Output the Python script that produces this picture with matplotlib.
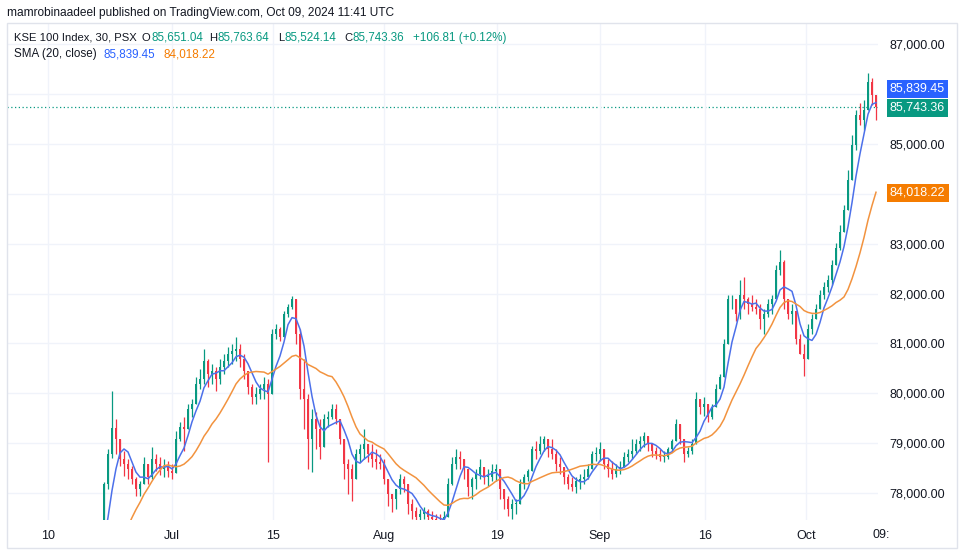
import matplotlib.pyplot as plt
from matplotlib.patches import Rectangle
from matplotlib.ticker import FuncFormatter
import pandas as pd
import numpy as np

plt.rcParams['font.family'] = ['Liberation Sans', 'DejaVu Sans']

# KSE 100, 30 min chart, resampled by eye: one candle per ~4 px of the screenshot
highs = [
    74450, 74250, 74550, 74450, 74750, 74650, 74950, 74850, 75150, 75050,
    75350, 75450, 75250, 75550, 75750, 75650, 75650, 76050, 76150, 76450,
    76650, 76750, 77050, 77250,
    78220, 78880, 80040, 79480, 79080, 78840, 78680, 78540, 78320, 78240,
    78720, 78480, 78920, 78780, 78720, 78680, 78640, 78580, 79240, 79420,
    79520, 79780, 79880, 80320, 80480, 80880, 80680, 80580, 80520, 80680,
    80780, 80920, 80980, 81120, 80980, 80780, 80440, 80180, 80120, 80180,
    80320, 80280, 81280, 81380, 81320, 81640, 81780, 81940, 81880, 81280,
    80680, 79980, 79680, 79620, 79480, 79580, 79640, 79780, 79780, 79380,
    78980, 78680, 78580, 78880, 78980, 79280, 78980, 78980, 78880, 78780,
    78680, 78280, 77980, 78080, 78380, 78340, 78080, 77880, 77720, 77680,
    77720, 77680, 77640, 77580, 77580, 77640, 78300, 78720, 78880, 78840,
    78680, 78380, 78320, 78480, 78680, 78520, 78480, 78580, 78580, 78280,
    78020, 77940, 77880, 77880, 78280, 78380, 78480, 78940, 79040, 79140,
    79140, 79080, 79080, 78880, 78720, 78480, 78380, 78320, 78320, 78380,
    78480, 78580, 78840, 78920, 79020, 78780, 78680, 78640, 78580, 78640,
    78820, 78880, 79080, 79080, 79140, 79220, 79140, 78980, 78920, 78880,
    78840, 78920, 79080, 79480, 79380, 79020, 78920, 79080, 80020, 79880,
    79920, 79720, 79780, 80180, 80380, 81080, 81980, 81980, 81880, 82280,
    82340, 81920, 81980, 81880, 81780, 81680, 81880, 81980, 82580, 82880,
    82680, 81880, 81780, 81580, 81180, 80980, 81380, 81580, 81780, 82080,
    82240, 82380, 82680, 83020, 83380, 83780, 84480, 85180, 85680, 85820,
    85880, 86420, 86320, 85980,
]
lows = [
    74150, 73950, 74250, 74150, 74450, 74350, 74650, 74550, 74850, 74750,
    75050, 75150, 74950, 75250, 75450, 75350, 75350, 75750, 75850, 76150,
    76350, 76450, 76750, 76950,
    77480, 78080, 78700, 78780, 78540, 78340, 78280, 78180, 77940, 77940,
    78240, 78180, 78280, 78440, 78360, 78320, 78320, 78280, 78480, 79040,
    78840, 79480, 79520, 79880, 80080, 80180, 80120, 80180, 80040, 80180,
    80380, 80520, 80580, 80640, 80520, 80280, 79980, 79780, 79780, 79880,
    79880, 78620, 80680, 81080, 81040, 81280, 81520, 81680, 80980, 79880,
    79280, 78480, 78420, 78880, 78680, 79080, 79320, 79480, 79380, 78980,
    78280, 77980, 77840, 78480, 78620, 78680, 78620, 78520, 78480, 78480,
    78180, 77740, 77620, 77680, 77980, 78020, 77580, 77480, 77380, 77380,
    77480, 77440, 77380, 77320, 77280, 77320, 77600, 78160, 78480, 78480,
    78280, 77940, 77880, 78080, 78280, 78180, 78140, 78240, 78240, 77880,
    77680, 77540, 77480, 77580, 77980, 78080, 78240, 78580, 78680, 78780,
    78840, 78720, 78680, 78440, 78380, 78180, 78080, 78040, 78000, 78080,
    78180, 78280, 78520, 78640, 78640, 78480, 78320, 78280, 78320, 78380,
    78580, 78620, 78680, 78780, 78840, 78920, 78840, 78720, 78680, 78640,
    78620, 78680, 78840, 79080, 78980, 78620, 78720, 78780, 79080, 79580,
    79540, 79420, 79480, 79840, 80080, 80380, 80980, 81680, 81440, 81480,
    81680, 81580, 81640, 81580, 81280, 81180, 81520, 81580, 81880, 82380,
    81680, 81480, 81380, 80980, 80780, 80340, 80780, 81180, 81480, 81680,
    81880, 82040, 82180, 82640, 82880, 83240, 83680, 84280, 84880, 85380,
    85280, 85880, 85780, 85480,
]
closes = [
    74300, 74100, 74400, 74300, 74600, 74500, 74800, 74700, 75000, 74900,
    75200, 75300, 75100, 75400, 75600, 75500, 75500, 75900, 76000, 76300,
    76500, 76600, 76900, 77100,
    78180, 78780, 79300, 79080, 78680, 78580, 78480, 78280, 78080, 78180,
    78580, 78320, 78680, 78580, 78480, 78520, 78440, 78400, 79080, 79320,
    79280, 79680, 79780, 80180, 80280, 80640, 80380, 80440, 80280, 80520,
    80640, 80780, 80840, 80880, 80680, 80440, 80120, 79920, 79980, 80080,
    80180, 79980, 81180, 81280, 81120, 81580, 81720, 81880, 81180, 80080,
    79880, 79080, 79480, 79280, 78920, 79480, 79520, 79680, 79480, 79080,
    78580, 78480, 78280, 78780, 78880, 78980, 78780, 78680, 78620, 78580,
    78280, 77980, 77880, 78080, 78280, 78180, 77780, 77640, 77520, 77580,
    77640, 77520, 77480, 77440, 77380, 77520, 78180, 78580, 78720, 78680,
    78480, 78120, 78280, 78380, 78520, 78320, 78320, 78440, 78480, 78080,
    77880, 77680, 77780, 77780, 78180, 78320, 78440, 78880, 78840, 78980,
    79080, 78880, 78780, 78580, 78520, 78320, 78180, 78120, 78240, 78280,
    78320, 78480, 78780, 78780, 78880, 78580, 78480, 78380, 78480, 78520,
    78720, 78780, 78840, 78980, 79040, 79140, 78980, 78840, 78780, 78720,
    78720, 78880, 79040, 79380, 79080, 78780, 78840, 78980, 79880, 79720,
    79780, 79520, 79720, 80080, 80320, 80980, 81880, 81880, 81580, 81980,
    81880, 81780, 81720, 81680, 81480, 81580, 81780, 81880, 82480, 82640,
    81880, 81580, 81640, 81080, 80780, 80680, 81280, 81480, 81680, 81980,
    82140, 82280, 82580, 82920, 83240, 83680, 84280, 84980, 85580, 85480,
    85680, 86240, 85980, 85743.36,
]

tick_pos = [10, 41, 66.25, 94, 122.25, 148, 174.25, 199.5]
tick_labels = ['10', 'Jul', '15', 'Aug', '19', 'Sep', '16', 'Oct']
price_ticks = list(range(78000, 88000, 1000))
hidden_price_labels = [84000, 86000]   # covered by the price tags in the original

ohlc_values = ['85,651.04', '85,763.64', '85,524.14', '85,743.36']
change_text = '+106.81 (+0.12%)'
sma_fast_last = 85839.45
sma_slow_last = 84018.22

UP, DOWN = '#089981', '#f23645'
BLUE, ORANGE = '#2962ff', '#f57c00'
TXT = '#131722'
W, H = 962, 556

df = pd.DataFrame({'high': highs, 'low': lows, 'close': closes})
df['open'] = df['close'].shift(1).fillna(df['close'])
df['high'] = df[['high', 'open', 'close']].max(axis=1)
df['low'] = df[['low', 'open', 'close']].min(axis=1)
df['sma_fast'] = df['close'].rolling(5).mean()
df['sma_slow'] = df['close'].rolling(16).mean()

fig = plt.figure(figsize=(W / 100, H / 100), dpi=100)
ax = fig.add_axes([7 / W, 36 / H, 871 / W, 497 / H])

# candles
colors = np.where(df['close'] >= df['open'], UP, DOWN)
body_lo = df[['open', 'close']].min(axis=1)
body_h = (df['close'] - df['open']).abs().clip(lower=15)
ax.vlines(df.index, df['low'], df['high'], colors=colors, lw=0.9, zorder=2)
ax.bar(df.index, body_h, bottom=body_lo, width=0.5, color=colors, lw=0, zorder=2)

# moving averages
ax.plot(df.index, df['sma_fast'], color='#4c70ea', lw=1.1, zorder=3)
ax.plot(df.index, df['sma_slow'], color='#f2933f', lw=1.1, zorder=3)

last_close = df['close'].iloc[-1]
ax.axhline(last_close, color=UP, lw=0.9, ls=(0, (1, 2)), zorder=1)

ax.set_xlim(-0.25, 217.5)
ax.set_ylim(77461, 87421)
ax.set_xticks(tick_pos)
ax.set_xticklabels(tick_labels)
ax.set_yticks(price_ticks)
ax.yaxis.set_major_formatter(
    FuncFormatter(lambda v, p: '' if v in hidden_price_labels else f'{v:,.2f}'))
ax.yaxis.tick_right()
ax.tick_params(axis='y', length=0, pad=8.5, labelsize=9, labelcolor=TXT)
ax.tick_params(axis='x', length=0, pad=7, labelsize=9, labelcolor=TXT)
ax.grid(color='#f0f3fa', lw=1, zorder=0)
for s in ax.spines.values():
    s.set_visible(False)
ax.text(218.2, -15 / 497, '09:', transform=ax.get_xaxis_transform(),
        ha='center', va='center', fontsize=9, color=TXT, clip_on=False)

# price scale labels
def price_tag(value, text, color, dy):
    ax.annotate(text, xy=(1, value), xycoords=('axes fraction', 'data'),
                xytext=(12, dy), textcoords='offset pixels', va='center', ha='left',
                fontsize=9, color='white', annotation_clip=False,
                bbox=dict(boxstyle='square,pad=0.25', fc=color, ec='none'))

price_tag(sma_fast_last, f'{sma_fast_last:,.2f}', BLUE, 13)
price_tag(last_close, f'{last_close:,.2f}', UP, -1)
price_tag(sma_slow_last, f'{sma_slow_last:,.2f}', ORANGE, 0)

# panel border
fig.add_artist(Rectangle((7 / W, 8 / H), 950 / W, 525 / H, transform=fig.transFigure,
                         fill=False, ec='#e0e3eb', lw=1))

def ftext(x, y, s, color=TXT, size=8.4, ha='left'):
    fig.text(x / W, 1 - y / H, s, color=color, fontsize=size, va='center', ha=ha)

ftext(7, 13, 'mamrobinaadeel published on TradingView.com, Oct 09, 2024 11:41 UTC', size=8.55)
ftext(14, 38, 'KSE 100 Index, 30, PSX', size=8.1)
for vx, letter, val in zip([151, 218, 285, 353], 'OHLC', ohlc_values):
    ftext(vx - 0.5, 38, letter, size=8.1, ha='right')
    ftext(vx, 38, val, UP)
ftext(413, 38, change_text, UP)
ftext(14, 54, 'SMA (20, close)', size=8.4)
ftext(103, 54, f'{sma_fast_last:,.2f}', BLUE)
ftext(163, 54, f'{sma_slow_last:,.2f}', ORANGE)

plt.savefig('out.png', dpi=100)
